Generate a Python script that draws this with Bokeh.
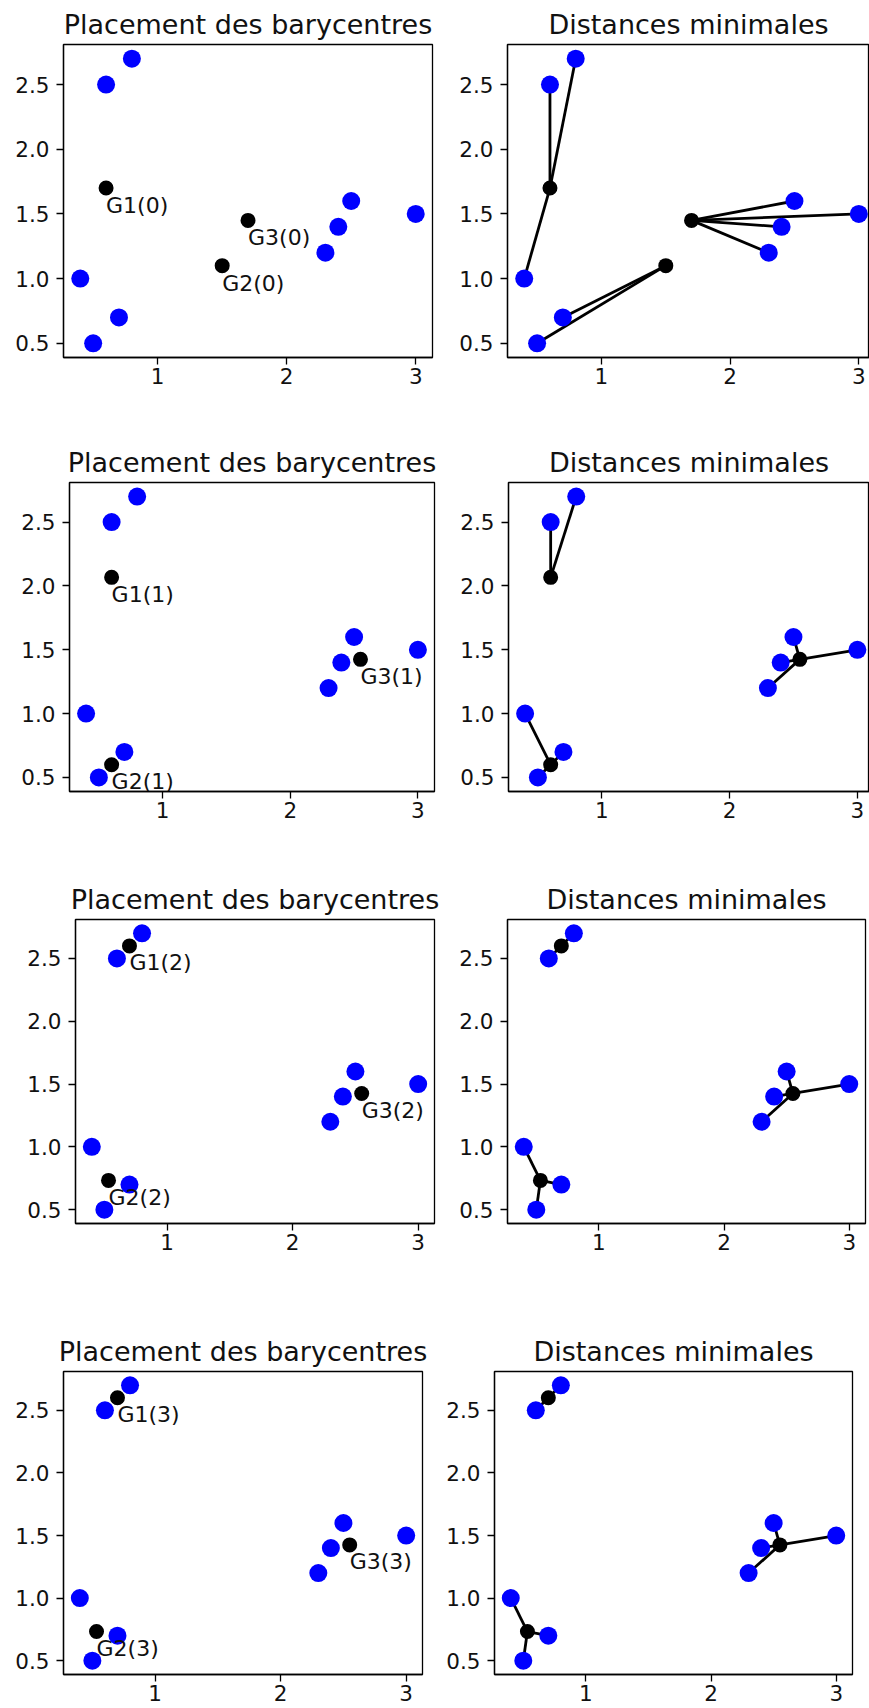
from bokeh.plotting import figure
from bokeh.layouts import column, row
from bokeh.models import Range1d, FixedTicker, NumeralTickFormatter, ColumnDataSource
from bokeh.core.properties import value
from bokeh.embed import file_html
from bokeh.resources import INLINE

# Data points (blue)
pts_x = [0.4, 0.5, 0.6, 0.7, 0.8, 2.3, 2.4, 2.5, 3.0]
pts_y = [1.0, 0.5, 2.5, 0.7, 2.7, 1.2, 1.4, 1.6, 1.5]

# Barycentres G1, G2, G3 at each iteration (0..3)
g_x = [[0.6, 1.5, 1.7],
       [0.6, 0.6, 2.55],
       [0.7, 0.533, 2.55],
       [0.7, 0.533, 2.55]]
g_y = [[1.7, 1.1, 1.45],
       [2.067, 0.6, 1.425],
       [2.6, 0.733, 1.425],
       [2.6, 0.733, 1.425]]
g_names = ["G1", "G2", "G3"]

# Index of the nearest barycentre for each point, per iteration
assign = [[0, 1, 0, 1, 0, 2, 2, 2, 2],
          [1, 1, 0, 1, 0, 2, 2, 2, 2],
          [1, 1, 0, 1, 0, 2, 2, 2, 2],
          [1, 1, 0, 1, 0, 2, 2, 2, 2]]

x_ticks = [1, 2, 3]
y_ticks = [0.5, 1.0, 1.5, 2.0, 2.5]
label_dy = 0.135

FONT = "DejaVu Sans"

# layout: (top, frame_h, bottom), left (bl, fw, br, xend), right (bl, fw, br, xend)
rows_spec = [
    ((44, 313, 53), (63, 369, 18, 3.13), (57, 362, 0, 3.083)),
    ((72, 309, 59), (69, 365, 16, 3.13), (58, 361, 0, 3.095)),
    ((69, 304, 75), (75, 359, 16, 3.13), (57, 358, 4, 3.13)),
    ((73, 303, 34), (63, 359, 18, 3.13), (54, 358, 17, 3.13)),
]


def make_fig(title, vert, horiz):
    top, fh, bottom = vert
    bl, fw, br, xend = horiz
    p = figure(frame_width=fw, frame_height=fh, output_backend="svg",
               toolbar_location=None, x_range=Range1d(0.27, xend),
               y_range=Range1d(0.39, 2.81),
               min_border_left=bl, min_border_right=br,
               min_border_top=top, min_border_bottom=bottom,
               background_fill_color="white", border_fill_color="white")
    p.title.text = title
    p.title.align = "center"
    p.title.text_font = FONT
    p.title.text_font_size = "27px"
    p.title.text_font_style = "normal"
    p.title.text_color = "#111111"
    p.title.standoff = 10
    p.grid.visible = False
    p.outline_line_color = "black"
    p.outline_line_width = 1.3
    p.outline_line_alpha = 1.0
    for ax in (p.xaxis[0], p.yaxis[0]):
        ax.axis_line_color = "black"
        ax.axis_line_width = 1.3
        ax.major_tick_line_color = "black"
        ax.major_tick_line_width = 1.3
        ax.major_tick_out = 7
        ax.major_tick_in = 0
        ax.minor_tick_line_color = None
        ax.major_label_text_font = FONT
        ax.major_label_text_font_size = "21.5px"
        ax.major_label_text_color = "#111111"
    p.xaxis.ticker = FixedTicker(ticks=x_ticks)
    p.yaxis.ticker = FixedTicker(ticks=y_ticks)
    p.xaxis.formatter = NumeralTickFormatter(format="0")
    p.yaxis.formatter = NumeralTickFormatter(format="0.0")
    p.xaxis.major_label_standoff = 3
    p.yaxis.major_label_standoff = 7
    return p


rows = []
for it in range(4):
    vert, lspec, rspec = rows_spec[it]
    gx = g_x[it]
    gy = g_y[it]

    # Left: placement of barycentres
    pl = make_fig("Placement des barycentres", vert, lspec)
    pl.scatter(pts_x, pts_y, size=18, color="blue", line_color=None)
    pl.scatter(gx, gy, size=15, color="black", line_color=None)
    lab = ColumnDataSource(dict(x=gx, y=[v - label_dy for v in gy],
                                t=[f"{n}({it})" for n in g_names]))
    pl.text(x="x", y="y", text="t", source=lab, text_font=value(FONT),
            text_font_size="22px", text_color="#111111",
            text_align="left", text_baseline="alphabetic")

    # Right: minimal distances
    pr = make_fig("Distances minimales", vert, rspec)
    x0 = [gx[a] for a in assign[it]]
    y0 = [gy[a] for a in assign[it]]
    pr.segment(x0=x0, y0=y0, x1=pts_x, y1=pts_y, line_color="black", line_width=2.8)
    pr.scatter(pts_x, pts_y, size=18, color="blue", line_color=None)
    pr.scatter(gx, gy, size=15, color="black", line_color=None)

    rows.append(row(pl, pr, spacing=0))

layout = column(*rows, spacing=0)
open("out.html", "w").write(file_html(layout, INLINE))
